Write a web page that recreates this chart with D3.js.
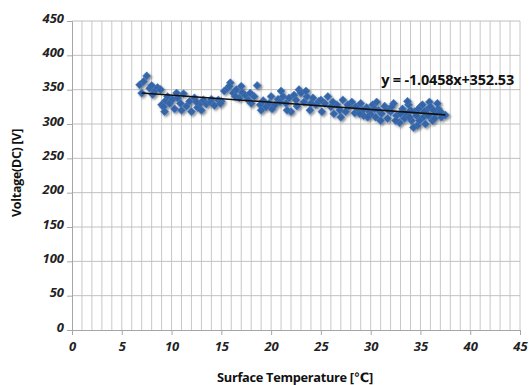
<!DOCTYPE html>
<html>
<head>
<meta charset="utf-8">
<script src="https://cdn.jsdelivr.net/npm/d3@7"></script>
<style>
  body { margin: 0; background: #fff; }
  text { font-family: "Open Sans", "DejaVu Sans", sans-serif; }
</style>
</head>
<body>
<div id="chart"></div>
<script>
// 1. Data
const temps = [
  6.8, 7.2, 7.5, 7.8, 8.0, 8.3, 8.6, 8.9, 9.0, 9.2, 9.4, 9.6, 9.8, 10.1, 10.3, 10.6, 10.9, 11.2, 11.5, 11.8,
  12.0, 12.3, 12.6, 12.9, 13.2, 13.5, 13.9, 14.3, 14.7, 15.0, 15.3, 15.6, 15.9, 16.2, 16.5, 16.8, 17.1, 17.4, 17.7, 18.0,
  18.3, 18.6, 18.9, 19.2, 19.5, 19.8, 20.1, 20.4, 20.7, 21.0, 21.2, 21.5, 21.8, 22.0, 22.3, 22.5, 22.8, 23.0, 23.3, 23.6,
  23.9, 24.2, 24.5, 24.8, 25.1, 25.4, 25.7, 26.0, 26.3, 26.6, 26.9, 27.2, 27.5, 27.8, 28.1, 28.4, 28.7, 29.0, 29.3, 29.6,
  29.9, 30.2, 30.5, 30.8, 31.1, 31.4, 31.7, 32.0, 32.3, 32.6, 32.9, 33.2, 33.5, 33.8, 34.1, 34.4, 34.7, 35.0, 35.3, 35.6,
  35.9, 36.2, 36.5, 36.8, 37.1, 37.5,
  7.0, 8.1, 9.3, 10.5, 11.0, 12.5, 13.0, 14.0, 14.9, 15.8, 16.4, 17.0, 17.9, 19.0, 20.0, 20.9, 21.6, 22.6, 23.5, 24.0,
  25.0, 26.2, 27.0, 27.7, 28.5, 29.2, 30.0, 30.6, 31.0, 31.8, 32.5, 33.0, 33.4, 33.7, 34.0, 34.3, 34.6, 34.9, 35.2, 35.5,
  35.8, 36.0, 36.4, 36.7, 37.0, 32.1, 33.9, 34.8, 35.4, 36.3, 30.4, 29.7, 28.9
];
const volts = [
  357, 362, 370, 352, 356, 348, 353, 350, 328, 325, 334, 340, 330, 336, 322, 338, 330, 344, 326, 333,
  318, 338, 324, 330, 335, 329, 332, 327, 335, 333, 348, 352, 360, 345, 350, 338, 346, 342, 335, 330,
  340, 356, 328, 334, 325, 330, 322, 328, 336, 348, 340, 330, 338, 318, 342, 335, 350, 345, 332, 340,
  320, 338, 328, 333, 318, 330, 340, 325, 315, 328, 320, 335, 318, 326, 332, 316, 322, 330, 312, 324,
  318, 328, 310, 320, 315, 326, 308, 318, 330, 312, 302, 322, 315, 328, 305, 318, 298, 325, 310, 320,
  332, 305, 315, 322, 310, 313,
  345, 343, 318, 345, 320, 332, 320, 336, 330, 355, 340, 355, 345, 320, 340, 332, 320, 326, 348, 330,
  335, 332, 310, 328, 325, 320, 314, 332, 305, 320, 305, 315, 308, 333, 320, 295, 312, 305, 328, 300,
  312, 325, 308, 330, 318, 325, 310, 322, 318, 320, 322, 310, 315
];
const xTicks = [0, 5, 10, 15, 20, 25, 30, 35, 40, 45];
const yTicks = [0, 50, 100, 150, 200, 250, 300, 350, 400, 450];
const slope = -1.0458;
const intercept = 352.53;
const trendRange = [7, 37.5];
const trendLabel = "y = -1.0458x+352.53";
const xTitle = "Surface Temperature [℃]";
const yTitle = "Voltage(DC) [V]";

const dataset = temps.map((t, i) => ({ t, v: volts[i] }));

// 2. Dimensions
const dims = {
  width: 529,
  height: 385,
  margin: { top: 21, right: 9, bottom: 55, left: 72 },
};
dims.containerWidth = dims.width - dims.margin.left - dims.margin.right;
dims.containerHeight = dims.height - dims.margin.top - dims.margin.bottom;

// 3. Container
const svg = d3.select("#chart")
  .append("svg")
  .attr("width", dims.width)
  .attr("height", dims.height);

const defs = svg.append("defs");
const shadow = defs.append("filter").attr("id", "shadow")
  .attr("x", "-50%").attr("y", "-50%").attr("width", "200%").attr("height", "200%");
shadow.append("feDropShadow")
  .attr("dx", 1.5).attr("dy", 1.5).attr("stdDeviation", 1.3)
  .attr("flood-color", "#000").attr("flood-opacity", 0.45);

const container = svg.append("g")
  .attr("transform", `translate(${dims.margin.left},${dims.margin.top})`);

// 4. Scales
const xScale = d3.scaleLinear().domain([0, 45]).range([0, dims.containerWidth]);
const yScale = d3.scaleLinear().domain([0, 450]).range([dims.containerHeight, 0]);

// Grid
container.append("g")
  .selectAll("line")
  .data(d3.range(1, 46))
  .join("line")
  .attr("x1", (d) => xScale(d)).attr("x2", (d) => xScale(d))
  .attr("y1", 0).attr("y2", dims.containerHeight)
  .attr("stroke", "#c8c8c8").attr("stroke-width", 1);

container.append("g")
  .selectAll("line")
  .data(yTicks.slice(1))
  .join("line")
  .attr("x1", 0).attr("x2", dims.containerWidth)
  .attr("y1", (d) => yScale(d)).attr("y2", (d) => yScale(d))
  .attr("stroke", "#c0c0c0").attr("stroke-width", 1);

// 5. Axes
const xAxisGroup = container.append("g")
  .attr("transform", `translate(0,${dims.containerHeight})`)
  .call(d3.axisBottom(xScale).tickValues(xTicks).tickSize(5).tickPadding(3));
const yAxisGroup = container.append("g")
  .call(d3.axisLeft(yScale).tickValues(yTicks).tickSize(5).tickPadding(3));

[xAxisGroup, yAxisGroup].forEach((g) => {
  g.select(".domain").attr("stroke", "#a6a6a6");
  g.selectAll(".tick line").attr("stroke", "#a6a6a6");
  g.selectAll(".tick text")
    .attr("fill", "#222")
    .style("font-size", "13px")
    .style("font-weight", "bold")
    .style("font-style", "italic");
});
yAxisGroup.selectAll(".tick text").attr("dy", "0.1em");
xAxisGroup.selectAll(".tick text").attr("dy", "1em");

// 6. Draw points
const diamond = d3.symbol().type(d3.symbolDiamond2).size(42);
container.append("g")
  .attr("filter", "url(#shadow)")
  .selectAll("path")
  .data(dataset)
  .join("path")
  .attr("d", diamond)
  .attr("transform", (d) => `translate(${xScale(d.t)},${yScale(d.v)})`)
  .attr("fill", "#3565a6")
  .attr("stroke", "#4a7bbd")
  .attr("stroke-width", 0.6);

// Trend line
const trend = trendRange.map((t) => ({ t, v: slope * t + intercept }));
container.append("path")
  .datum(trend)
  .attr("d", d3.line().x((d) => xScale(d.t)).y((d) => yScale(d.v)))
  .attr("stroke", "#111")
  .attr("stroke-width", 1.6)
  .attr("fill", "none");

container.append("text")
  .attr("x", xScale(44.4))
  .attr("y", yScale(357))
  .attr("text-anchor", "end")
  .attr("fill", "#111")
  .style("font-size", "14.5px")
  .style("font-weight", "bold")
  .style("letter-spacing", "-0.2px")
  .text(trendLabel);

// Axis titles
svg.append("text")
  .attr("x", 295)
  .attr("y", 382)
  .attr("text-anchor", "middle")
  .attr("fill", "#111")
  .style("font-size", "12.8px")
  .style("font-weight", "bold")
  .style("letter-spacing", "-0.3px")
  .text(xTitle);

svg.append("text")
  .attr("transform", `translate(21,173) rotate(-90)`)
  .attr("text-anchor", "middle")
  .attr("fill", "#111")
  .style("font-size", "12.5px")
  .style("font-weight", "bold")
  .style("letter-spacing", "-0.3px")
  .text(yTitle);
</script>
</body>
</html>
